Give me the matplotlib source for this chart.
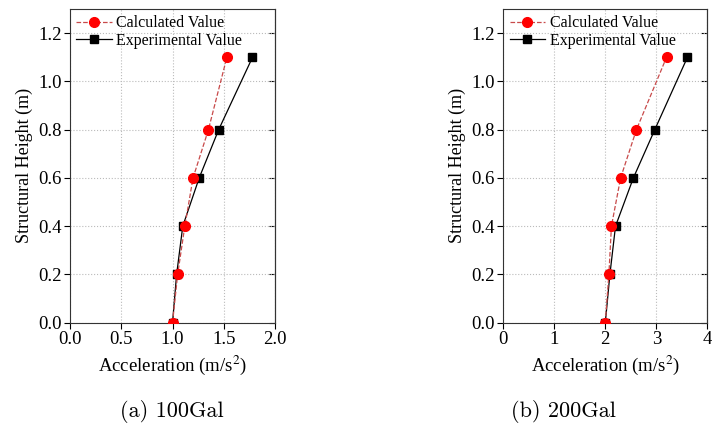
import matplotlib
matplotlib.use('Agg')
import matplotlib.pyplot as plt

heights = [0.0, 0.2, 0.4, 0.6, 0.8, 1.1]

calc_100 = [1.00, 1.05, 1.12, 1.20, 1.35, 1.53]
exp_100 = [1.00, 1.04, 1.10, 1.26, 1.45, 1.78]

calc_200 = [2.00, 2.07, 2.12, 2.30, 2.61, 3.20]
exp_200 = [2.00, 2.09, 2.20, 2.55, 2.97, 3.61]

captions = ['(a) 100Gal', '(b) 200Gal']

plt.rcParams['font.family'] = 'Liberation Serif'
plt.rcParams['mathtext.fontset'] = 'stix'

fig = plt.figure(figsize=(7.12, 4.29), dpi=100)
ax1 = fig.add_axes([0.0983, 0.2478, 0.288, 0.731])
ax2 = fig.add_axes([0.7069, 0.2478, 0.2865, 0.731])

panels = [
    (ax1, calc_100, exp_100, (0, 2.0), [0.0, 0.5, 1.0, 1.5, 2.0], ['0.0', '0.5', '1.0', '1.5', '2.0']),
    (ax2, calc_200, exp_200, (0, 4), [0, 1, 2, 3, 4], ['0', '1', '2', '3', '4']),
]

for ax, calc, exp, xlim, xt, xtl in panels:
    ax.plot(calc, heights, linestyle='--', color='#c84a4a', linewidth=0.9,
            marker='o', markersize=7, markerfacecolor='red', markeredgecolor='red',
            label='Calculated Value', zorder=3)
    ax.plot(exp, heights, linestyle='-', color='black', linewidth=0.9,
            marker='s', markersize=6, markerfacecolor='black', markeredgecolor='black',
            label='Experimental Value', zorder=2)
    ax.set_xlim(*xlim)
    ax.set_ylim(0, 1.3)
    ax.set_xticks(xt)
    ax.set_xticklabels(xtl)
    ax.set_yticks([0.0, 0.2, 0.4, 0.6, 0.8, 1.0, 1.2])
    ax.set_yticklabels(['0.0', '0.2', '0.4', '0.6', '0.8', '1.0', '1.2'])
    ax.grid(True, linestyle=':', color='#bbbbbb', linewidth=0.8)
    ax.tick_params(axis='both', labelsize=13.5, direction='out', length=4, width=0.8, pad=2)
    for s in ax.spines.values():
        s.set_linewidth(0.8)
        s.set_color('#333333')
    ax.set_xlabel('Acceleration (m/s$^2$)', fontsize=13.5, labelpad=4)
    ax.set_ylabel('Structural Height (m)', fontsize=13, labelpad=4)
    # mirrored inward ticks on right
    ax_r = ax.secondary_yaxis('right')
    ax_r.set_yticks([0.0, 0.2, 0.4, 0.6, 0.8, 1.0, 1.2])
    ax_r.tick_params(direction='in', length=4, width=0.8, labelright=False)
    ax_r.spines['right'].set_linewidth(0.8)
    ax_r.spines['right'].set_color('#333333')
    ax.legend(loc='upper left', frameon=False, fontsize=11.5, handlelength=2.2,
              handletextpad=0.3, labelspacing=0.1, borderaxespad=0.2,
              borderpad=0.2)

fig.text(0.2415, 0.04, captions[0], ha='center', va='center', fontsize=16, family='cmr10')
fig.text(0.791, 0.04, captions[1], ha='center', va='center', fontsize=16, family='cmr10')

fig.savefig('out.png', dpi=100)
